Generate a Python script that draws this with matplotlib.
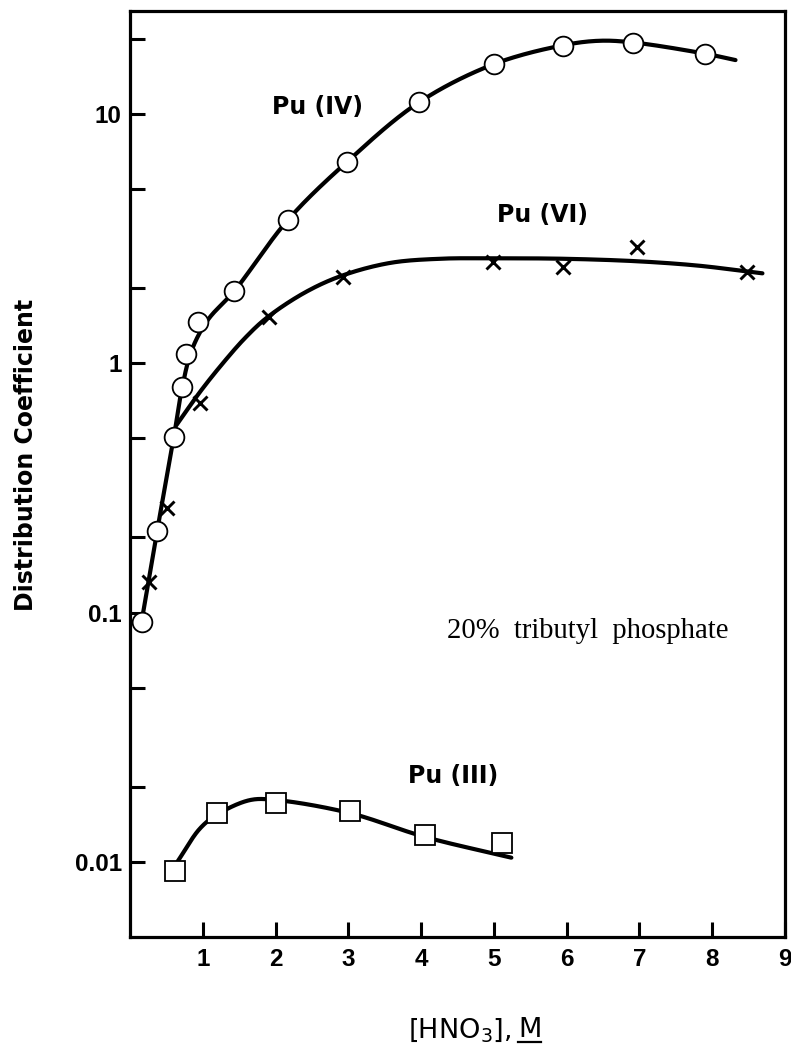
import numpy as np
import matplotlib
matplotlib.use("Agg")
import matplotlib.pyplot as plt
from matplotlib.ticker import FixedLocator, NullFormatter, FixedFormatter
from matplotlib.lines import Line2D

# ---------------- data ----------------
pu4_x = [0.165, 0.37, 0.60, 0.71, 0.77, 0.93, 1.43, 2.17, 2.98, 3.97, 5.00, 5.95, 6.91, 7.90]
pu4_y = [0.092, 0.212, 0.505, 0.80, 1.09, 1.46, 1.94, 3.75, 6.4, 11.1, 15.8, 18.7, 19.2, 17.4]

pu6_x = [0.26, 0.51, 0.96, 1.91, 2.93, 4.99, 5.95, 6.97, 8.48]
pu6_y = [0.132, 0.262, 0.69, 1.53, 2.21, 2.54, 2.43, 2.92, 2.32]

pu3_x = [0.62, 1.20, 2.01, 3.02, 4.05, 5.11]
pu3_y = [0.0092, 0.0157, 0.0173, 0.0160, 0.0128, 0.0119]

# hand-drawn smooth curves
pu4_curve_x = [0.165, 0.37, 0.60, 0.71, 0.85, 1.07, 1.43, 2.17, 2.98, 3.97, 5.00, 5.95, 6.45, 6.91, 7.90, 8.32]
pu4_curve_y = [0.094, 0.21, 0.50, 0.78, 1.13, 1.49, 1.94, 3.75, 6.4, 11.1, 15.8, 18.8, 19.6, 19.3, 17.4, 16.4]

pu6_curve_x = [0.64, 0.96, 1.265, 1.58, 1.88, 2.405, 2.91, 3.57, 4.26, 5.00, 5.95, 6.97, 7.80, 8.48, 8.69]
pu6_curve_y = [0.565, 0.765, 0.99, 1.26, 1.52, 1.92, 2.24, 2.52, 2.62, 2.63, 2.62, 2.56, 2.46, 2.33, 2.29]

pu3_curve_x = [0.65, 0.96, 1.20, 1.65, 2.01, 3.02, 4.05, 5.24]
pu3_curve_y = [0.0100, 0.0136, 0.0155, 0.0177, 0.0177, 0.0157, 0.0126, 0.0104]

x_ticks = [1, 2, 3, 4, 5, 6, 7, 8, 9]
y_major = [0.01, 0.1, 1, 10]
y_major_labels = ["0.01", "0.1", "1", "10"]
y_minor = [0.02, 0.05, 0.2, 0.5, 2, 5, 20]

# ---------------- helpers ----------------
def smooth_curve(xs, ys, n=30, sx=72.75, sy=249.3):
    """Centripetal Catmull-Rom through the given points (x, log10 y)."""
    P = np.column_stack([np.asarray(xs, float) * sx, np.log10(ys) * sy])
    P = np.vstack([2 * P[0] - P[1], P, 2 * P[-1] - P[-2]])
    out = []
    for i in range(1, len(P) - 2):
        p0, p1, p2, p3 = P[i - 1], P[i], P[i + 1], P[i + 2]
        t0 = 0.0
        t1 = t0 + np.linalg.norm(p1 - p0) ** 0.5
        t2 = t1 + np.linalg.norm(p2 - p1) ** 0.5
        t3 = t2 + np.linalg.norm(p3 - p2) ** 0.5
        t = np.linspace(t1, t2, n)[:, None]
        a1 = (t1 - t) / (t1 - t0) * p0 + (t - t0) / (t1 - t0) * p1
        a2 = (t2 - t) / (t2 - t1) * p1 + (t - t1) / (t2 - t1) * p2
        a3 = (t3 - t) / (t3 - t2) * p2 + (t - t2) / (t3 - t2) * p3
        b1 = (t2 - t) / (t2 - t0) * a1 + (t - t0) / (t2 - t0) * a2
        b2 = (t3 - t) / (t3 - t1) * a2 + (t - t1) / (t3 - t1) * a3
        c = (t2 - t) / (t2 - t1) * b1 + (t - t1) / (t2 - t1) * b2
        out.append(c)
    C = np.vstack(out)
    return C[:, 0] / sx, 10 ** (C[:, 1] / sy)

# ---------------- figure ----------------
fig = plt.figure(figsize=(7.91, 10.45), dpi=100)
ax = fig.add_axes([130 / 791, 1 - 937 / 1045, (785 - 130) / 791, (937 - 11) / 1045])
ax.set_yscale("log")
ax.set_xlim(0, 9)
ax.set_ylim(0.005, 25.8)

lw_curve = 3.0
for cx, cy in [(pu4_curve_x, pu4_curve_y), (pu6_curve_x, pu6_curve_y), (pu3_curve_x, pu3_curve_y)]:
    sx_, sy_ = smooth_curve(cx, cy)
    ax.plot(sx_, sy_, color="black", lw=lw_curve, solid_capstyle="round", zorder=2)

ax.plot(pu4_x, pu4_y, linestyle="none", marker="o", ms=14.2, mfc="white",
        mec="black", mew=1.3, zorder=3)
ax.plot(pu6_x, pu6_y, linestyle="none", marker="x", ms=10, mec="black",
        mew=2.1, zorder=3)
ax.plot(pu3_x, pu3_y, linestyle="none", marker="s", ms=13.8, mfc="white",
        mec="black", mew=1.3, zorder=3)

# labels in the plot
lab_kw = dict(family="DejaVu Sans", fontweight="bold", fontsize=17, va="baseline", ha="left")
ax.text(1.95, 9.97, "Pu (IV)", **lab_kw)
ax.text(5.04, 3.68, "Pu (VI)", **lab_kw)
ax.text(3.82, 0.0207, "Pu (III)", **lab_kw)
ax.text(4.36, 0.0788, "20%  tributyl  phosphate", family="Liberation Serif",
        fontsize=20.6, va="baseline", ha="left")

# axes styling
for sp in ax.spines.values():
    sp.set_linewidth(2.3)
ax.xaxis.set_major_locator(FixedLocator(x_ticks))
ax.xaxis.set_minor_locator(FixedLocator([]))
ax.yaxis.set_major_locator(FixedLocator(y_major))
ax.yaxis.set_major_formatter(FixedFormatter(y_major_labels))
ax.yaxis.set_minor_locator(FixedLocator(y_minor))
ax.yaxis.set_minor_formatter(NullFormatter())
ax.tick_params(axis="both", which="both", direction="in", length=11, width=2.2,
               top=False, right=False)
ax.tick_params(axis="x", pad=8)
ax.tick_params(axis="y", pad=6)
for lab in ax.get_xticklabels() + ax.get_yticklabels():
    lab.set_family("Liberation Sans")
    lab.set_fontweight("bold")
    lab.set_fontsize(17.5)

# y label
fig.text(26 / 791, 1 - 455 / 1045, "Distribution Coefficient", family="DejaVu Sans",
         fontweight="bold", fontsize=17, rotation=90, ha="center", va="center")

# x label with underlined M
fig.text(408 / 791, 1 - 1037 / 1045, "[HNO$_3$],", family="DejaVu Sans",
         fontsize=19.5, ha="left", va="baseline")
t2 = fig.text(518 / 791, 1 - 1037 / 1045, "M", family="DejaVu Sans",
              fontsize=19.5, ha="left", va="baseline")
fig.canvas.draw()
r = fig.canvas.get_renderer()
bb2 = t2.get_window_extent(r)
uy = 1 - 1042 / 1045
fig.add_artist(Line2D([bb2.x0 / 791, bb2.x1 / 791], [uy, uy], color="black", lw=1.6,
                      transform=fig.transFigure))

fig.savefig("out.png", dpi=100, facecolor="white")
